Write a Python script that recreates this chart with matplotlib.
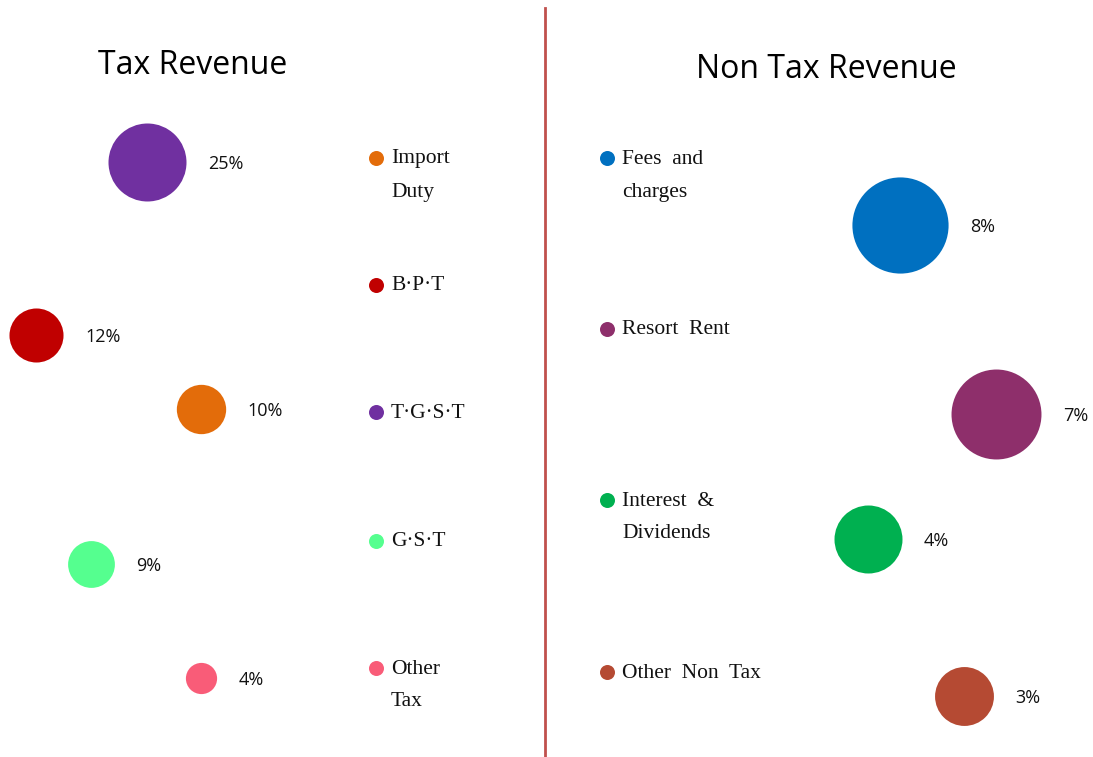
import matplotlib.pyplot as plt

# Tax revenue shares (%)
tax_names = ["T·G·S·T", "B·P·T", "Import Duty", "G·S·T", "Other Tax"]
tax_values = [25, 12, 10, 9, 4]
tax_colors = ["#7030A0", "#C00000", "#E36C0A", "#55FF8F", "#F95C78"]

# Non tax revenue shares (%)
nontax_names = ["Fees and charges", "Resort Rent", "Interest & Dividends", "Other Non Tax"]
nontax_values = [8, 7, 4, 3]
nontax_colors = ["#0070C0", "#8E2F6B", "#00B050", "#B54A33"]

# layout (pixel coords, origin top-left)
tax_pos = [(147, 162), (36, 335), (201, 409), (91, 564), (201, 678)]
nontax_pos = [(900, 225), (996, 414), (868, 539), (964, 696)]

tax_legend = [(["Import", "Duty"], 2, 158), (["B·P·T"], 1, 285), (["T·G·S·T"], 0, 412),
              (["G·S·T"], 3, 541), (["Other", "Tax"], 4, 668)]
nontax_legend = [(["Fees  and", "charges"], 0, 158), (["Resort  Rent"], 1, 329),
                 (["Interest  &", "Dividends"], 2, 500), (["Other  Non  Tax"], 3, 672)]

W, H = 1093, 757
fig = plt.figure(figsize=(W / 100, H / 100), dpi=100)
ax = fig.add_axes([0, 0, 1, 1])
ax.set_xlim(0, W)
ax.set_ylim(H, 0)
ax.axis("off")

pct_font = "Open Sans"
serif = "Liberation Serif"


def px_to_s(r):
    # radius in px -> scatter size in pt^2 (dpi 100)
    return (2 * r * 0.72) ** 2


# bubbles: radius proportional to sqrt(value)
for v, c, (x, y) in zip(tax_values, tax_colors, tax_pos):
    r = 7.8 * v ** 0.5
    ax.scatter([x], [y], s=px_to_s(r), color=c, linewidths=0, zorder=3)
    ax.text(x + r + 22, y + 2, f"{v}%", fontsize=13, family=pct_font,
            va="center", ha="left", color="#111111")

for v, c, (x, y) in zip(nontax_values, nontax_colors, nontax_pos):
    r = 17 * v ** 0.5
    ax.scatter([x], [y], s=px_to_s(r), color=c, linewidths=0, zorder=3)
    ax.text(x + r + 22, y + 2, f"{v}%", fontsize=13, family=pct_font,
            va="center", ha="left", color="#111111")


def legend(entries, colors, mx):
    for lines, i, y in entries:
        ax.scatter([mx], [y], s=px_to_s(7.5), color=colors[i], linewidths=0)
        for k, line in enumerate(lines):
            ax.text(mx + 15, y + 1 + 33 * k, line, fontsize=15.5, family=serif,
                    va="center", ha="left", color="#111111")


legend(tax_legend, tax_colors, 376)
legend(nontax_legend, nontax_colors, 607)

# titles
ax.text(193, 65, "Tax Revenue", fontsize=23, family=pct_font, ha="center", va="center")
ax.text(826, 69, "Non Tax Revenue", fontsize=23, family=pct_font, ha="center", va="center")

# divider
ax.plot([545, 545], [8, 757], color="#C0504D", lw=2)

fig.savefig("out.png", dpi=100, facecolor="white")
